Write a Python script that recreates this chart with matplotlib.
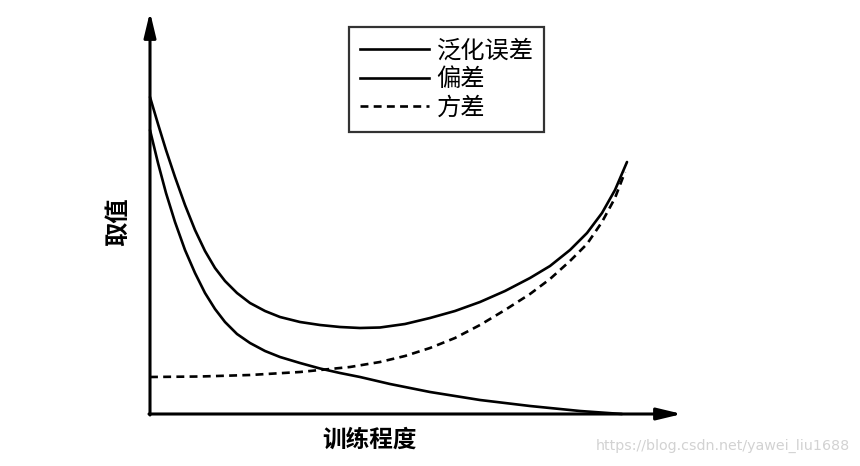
import matplotlib
matplotlib.use("Agg")
import matplotlib.pyplot as plt
from matplotlib.lines import Line2D

plt.rcParams["font.family"] = ["Noto Sans CJK SC", "DejaVu Sans"]

# training progress (x) and value (y)
gen_x = [0, 8, 16, 25, 35, 45, 55, 65, 75, 87, 100, 115, 130, 150, 170, 190, 210, 230,
         255, 280, 305, 330, 355, 380, 400, 420, 437, 452, 465, 477]
gen_y = [317, 290, 264, 237, 209, 184, 163, 146, 133, 121, 111, 103, 97, 92, 89, 87, 86,
         86.5, 90, 96, 103, 112, 123, 136, 148, 164, 181, 201, 224, 252]

bias_x = [0, 8, 16, 25, 35, 45, 55, 65, 75, 87, 100, 115, 130, 150, 170, 190, 210, 240,
          280, 330, 380, 430, 472]
bias_y = [284, 251, 221, 192, 164, 141, 121, 105, 92, 80, 71, 63, 57, 51, 45.5, 41, 37,
          30, 22, 14, 8, 3, 0]

var_x = [0, 50, 100, 150, 200, 230, 255, 280, 305, 330, 355, 380, 400, 420, 437, 452,
         465, 475]
var_y = [37, 37.5, 39, 42, 47, 52, 58, 66, 76, 89, 104, 120, 135, 153, 170, 192, 216, 242]

names = ["泛化误差", "偏差", "方差"]
x_label = "训练程度"
y_label = "取值"
source = "https://blog.csdn.net/yawei_liu1688"

fig = plt.figure(figsize=(8.6, 4.66), dpi=100)
ax = fig.add_axes([0, 0, 1, 1])
ax.set_xlim(-150, 710)
ax.set_ylim(-52, 414)
ax.axis("off")

ax.plot(gen_x, gen_y, color="black", lw=1.9, solid_capstyle="round", solid_joinstyle="round")
ax.plot(bias_x, bias_y, color="black", lw=1.9, solid_capstyle="round", solid_joinstyle="round")
ax.plot(var_x, var_y, color="black", lw=1.9, linestyle=(0, (3, 2)))

# axes with arrow heads
arrow = dict(arrowstyle="-|>,head_length=0.75,head_width=0.18", color="black",
             lw=2.2, shrinkA=0, shrinkB=0, mutation_scale=20)
ax.annotate("", xy=(0, 402), xytext=(0, -1), arrowprops=arrow)
ax.annotate("", xy=(532, 0), xytext=(-1, 0), arrowprops=arrow)

ax.text(220, -26, x_label, fontsize=17, fontweight="bold", ha="center", va="center")
ax.text(-32, 192, y_label, fontsize=17.5, fontweight="bold", ha="center", va="center",
        rotation=90)
ax.text(700, -32, source, fontsize=10.3, color="#d2d2d2", ha="right", va="center",
        family="DejaVu Sans")

handles = [Line2D([], [], color="black", lw=1.9),
           Line2D([], [], color="black", lw=1.9),
           Line2D([], [], color="black", lw=1.9, linestyle=(0, (3, 2)))]
leg = fig.legend(handles, names, loc="upper left", bbox_to_anchor=(349 / 860, 1 - 27 / 466),
                 fontsize=17.5, frameon=True, fancybox=False, edgecolor="black",
                 handlelength=2.85, handletextpad=0.3, labelspacing=0.1, borderpad=0.45,
                 borderaxespad=0)
leg.get_frame().set_linewidth(1.6)

fig.savefig("out.png", dpi=100)
